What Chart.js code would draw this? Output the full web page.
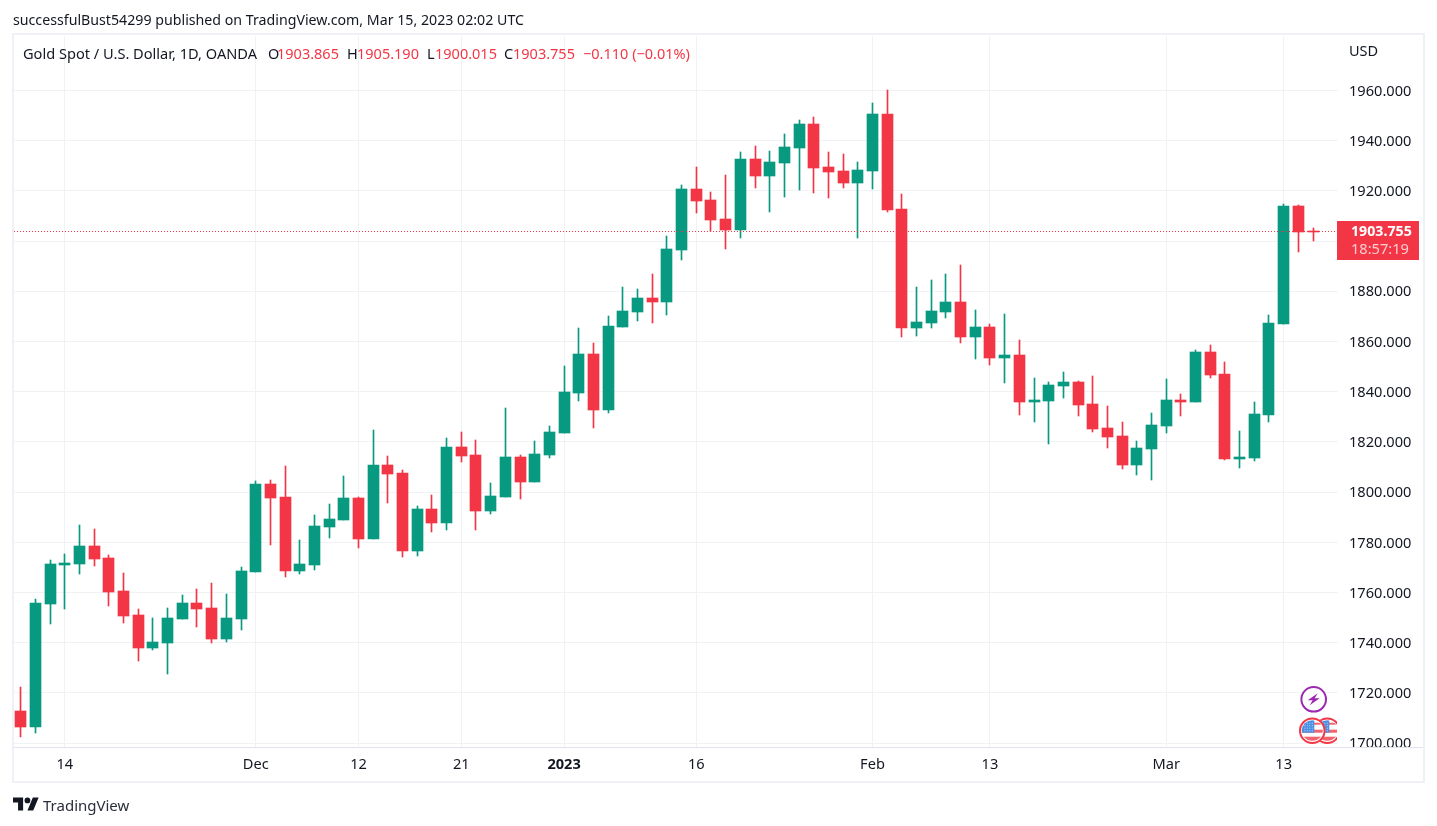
<!DOCTYPE html>
<html><head><meta charset="utf-8">
<style>
html,body{margin:0;padding:0;background:#fff;width:1437px;height:826px;overflow:hidden}
body{font-family:"Noto Sans",sans-serif;color:#131722}
#frame{position:absolute;left:12px;top:33px;width:1413px;height:750px;border:2px solid #F0F1F6;box-sizing:border-box}
canvas{position:absolute;left:0;top:0}
.t{position:absolute;white-space:nowrap;font-size:14.5px;line-height:18px}
.r{color:#F23645}
</style></head><body>
<div id="frame"></div>
<canvas id="c" width="1437" height="826"></canvas>
<div class="t" style="left:13px;top:11px;font-size:14.2px">successfulBust54299 published on TradingView.com, Mar 15, 2023 02:02 UTC</div>
<div class="t" style="left:23px;top:44px;font-size:14.6px">Gold Spot / U.S. Dollar, 1D, OANDA</div>
<div class="t" style="left:268px;top:44px">O</div><div class="t r" style="left:277px;top:44px">1903.865</div>
<div class="t" style="left:347px;top:44px">H</div><div class="t r" style="left:357px;top:44px">1905.190</div>
<div class="t" style="left:427px;top:44px">L</div><div class="t r" style="left:435px;top:44px">1900.015</div>
<div class="t" style="left:504px;top:44px">C</div><div class="t r" style="left:513px;top:44px">1903.755</div>
<div class="t r" style="left:583px;top:44px">−0.110 (−0.01%)</div>
<div class="t" style="left:1349px;top:41px">USD</div>
<svg style="position:absolute;left:13px;top:796px" width="26" height="16" viewBox="0 0 36 22"><path fill="#131722" d="M14 20H7V9H0V2h14v18zM28 20h-8l7.5-18h8L28 20z"/><circle fill="#131722" cx="20" cy="6" r="4"/></svg>
<div class="t" style="left:43px;top:796px;font-size:15px;color:#2A2E39">TradingView</div>
<script src="https://cdn.jsdelivr.net/npm/chart.js@4"></script>
<script>
const dates=["2022-11-09","2022-11-10","2022-11-11","2022-11-14","2022-11-15","2022-11-16","2022-11-17","2022-11-18","2022-11-21","2022-11-22","2022-11-23","2022-11-24","2022-11-25","2022-11-28","2022-11-29","2022-11-30","2022-12-01","2022-12-02","2022-12-05","2022-12-06","2022-12-07","2022-12-08","2022-12-09","2022-12-12","2022-12-13","2022-12-14","2022-12-15","2022-12-16","2022-12-19","2022-12-20","2022-12-21","2022-12-22","2022-12-23","2022-12-27","2022-12-28","2022-12-29","2022-12-30","2023-01-03","2023-01-04","2023-01-05","2023-01-06","2023-01-09","2023-01-10","2023-01-11","2023-01-12","2023-01-13","2023-01-16","2023-01-17","2023-01-18","2023-01-19","2023-01-20","2023-01-23","2023-01-24","2023-01-25","2023-01-26","2023-01-27","2023-01-30","2023-01-31","2023-02-01","2023-02-02","2023-02-03","2023-02-06","2023-02-07","2023-02-08","2023-02-09","2023-02-10","2023-02-13","2023-02-14","2023-02-15","2023-02-16","2023-02-17","2023-02-20","2023-02-21","2023-02-22","2023-02-23","2023-02-24","2023-02-27","2023-02-28","2023-03-01","2023-03-02","2023-03-03","2023-03-06","2023-03-07","2023-03-08","2023-03-09","2023-03-10","2023-03-13","2023-03-14","2023-03-15"];
const opens=[1712.9,1706.5,1755.5,1771.0,1771.4,1778.6,1773.8,1760.7,1751.1,1738.0,1740.0,1749.5,1755.9,1753.9,1741.6,1749.5,1768.3,1803.3,1798.1,1768.7,1771.0,1786.2,1789.0,1797.7,1781.4,1810.9,1807.7,1776.6,1793.4,1787.8,1818.1,1814.9,1792.6,1798.1,1814.1,1804.1,1814.9,1823.6,1839.6,1855.1,1832.8,1865.9,1871.8,1877.4,1875.8,1896.5,1920.8,1916.5,1908.9,1904.5,1932.8,1926.0,1931.2,1937.2,1946.7,1929.6,1928.0,1923.2,1928.0,1950.7,1912.9,1865.5,1867.5,1871.8,1875.8,1861.9,1865.9,1853.5,1854.7,1836.0,1836.4,1842.4,1844.0,1835.2,1825.6,1822.4,1810.9,1817.3,1826.4,1836.8,1836.0,1855.9,1847.1,1813.3,1813.7,1830.8,1867.1,1914.1,1903.865];
const highs=[1722.4,1757.5,1773.0,1775.4,1787.0,1785.4,1775.0,1767.9,1753.5,1749.9,1753.9,1759.1,1761.5,1763.9,1759.5,1770.3,1804.5,1804.9,1810.5,1781.0,1791.0,1795.4,1806.5,1797.9,1824.8,1814.5,1808.9,1794.6,1798.9,1821.6,1824.0,1820.8,1803.7,1833.6,1814.9,1820.4,1826.4,1850.3,1865.5,1859.5,1870.3,1881.8,1881.0,1887.0,1902.1,1922.4,1929.6,1919.7,1926.4,1935.6,1938.0,1936.0,1942.8,1948.3,1949.5,1935.6,1934.8,1931.6,1955.1,1960.3,1918.9,1881.8,1884.6,1887.0,1890.6,1872.6,1867.1,1871.0,1860.7,1845.5,1844.0,1847.9,1844.4,1846.3,1834.4,1828.0,1820.4,1831.6,1845.2,1839.2,1856.7,1858.7,1851.9,1824.4,1836.0,1870.6,1914.9,1914.5,1905.19];
const lows=[1702.5,1704.1,1747.5,1753.5,1767.5,1770.7,1754.7,1747.9,1732.8,1737.2,1727.6,1749.5,1746.3,1740.0,1740.4,1745.2,1768.3,1779.0,1766.3,1767.5,1769.0,1781.8,1789.0,1777.8,1781.4,1795.8,1774.2,1774.6,1784.2,1785.0,1812.1,1785.0,1791.4,1798.1,1797.3,1804.1,1813.7,1823.6,1836.4,1825.6,1831.6,1865.9,1868.3,1867.5,1870.6,1892.6,1911.3,1904.1,1896.9,1901.3,1921.2,1911.7,1917.7,1920.4,1919.3,1917.3,1921.2,1901.3,1920.8,1911.7,1861.9,1862.3,1865.5,1869.4,1859.5,1853.1,1850.7,1843.6,1830.8,1828.0,1819.3,1837.6,1830.4,1824.0,1817.7,1809.3,1806.9,1804.9,1823.6,1830.4,1836.0,1845.5,1812.9,1809.7,1812.5,1828.0,1867.1,1895.8,1900.015];
const closes=[1706.5,1755.9,1771.4,1771.8,1778.6,1773.4,1760.3,1750.7,1738.0,1740.4,1749.9,1755.9,1753.5,1741.6,1749.9,1768.7,1803.3,1797.7,1768.7,1771.4,1786.6,1789.4,1797.7,1781.4,1810.9,1807.3,1776.6,1793.4,1787.8,1818.1,1814.5,1792.6,1798.5,1814.1,1804.1,1815.3,1824.0,1840.0,1855.1,1832.8,1866.3,1872.2,1877.4,1875.8,1896.9,1920.8,1916.1,1908.5,1904.5,1932.8,1926.0,1931.6,1937.6,1946.7,1929.2,1927.6,1923.2,1928.4,1950.7,1912.5,1865.5,1867.9,1872.2,1875.8,1861.9,1865.9,1853.5,1854.7,1836.0,1836.8,1842.8,1844.0,1834.8,1825.2,1822.0,1810.9,1817.7,1826.8,1836.8,1836.0,1855.9,1846.7,1813.3,1814.1,1831.2,1867.5,1914.1,1903.7,1903.755];
const tickDates=["2022-11-14","2022-12-01","2022-12-12","2022-12-21","2023-01-03","2023-01-16","2023-02-01","2023-02-13","2023-03-01","2023-03-13"];
const tickTexts=["14","Dec","12","21","2023","16","Feb","13","Mar","13"];
const priceTicks=[1700,1720,1740,1760,1780,1800,1820,1840,1860,1880,1900,1920,1940,1960];
const lastPrice=1903.755, lastPriceText="1903.755", countdownText="18:57:19";
const UP="#089981", DOWN="#F23645", GRID="#F1F2F6", FONT='"Noto Sans",sans-serif';
const candleColor=ctx=>closes[ctx.dataIndex]>=opens[ctx.dataIndex]?UP:DOWN;
const tickIdx=tickDates.map(d=>dates.indexOf(d));
const xMin=-0.46,xMax=89.70;

const snap={id:'snap',afterDatasetsUpdate(ch){
  ch.data.datasets.forEach((ds,i)=>{
    const m=ch.getDatasetMeta(i);
    m.data.forEach(el=>{
      if(ds.type==='line'){el.y=Math.floor(el.y)+.5;return;}
      el.x=Math.floor(el.x)+.5;
      let a=Math.round(el.y),b=Math.round(el.base);
      if(a===b)b=a+1;
      el.y=a;el.base=b;
    });
  });
}};
const deco={id:'deco',afterDraw(ch){
  const c=ch.ctx,ya=ch.scales.y,a=ch.chartArea;
  c.save();
  c.fillStyle="#E0E3EB";c.fillRect(14,Math.round(a.bottom),1409,1);
  const py=Math.floor(ya.getPixelForValue(lastPrice));
  c.fillStyle=DOWN;c.fillRect(1337,py-10,82,39);
  c.textBaseline='middle';c.textAlign='left';
  c.font='bold 14.2px '+FONT;c.fillStyle="#fff";c.fillText(lastPriceText,1351,py+1);
  c.font='14.6px '+FONT;c.fillStyle="rgba(255,255,255,.75)";c.fillText(countdownText,1351,py+19);
  // event icons
  c.beginPath();c.rect(14,660,1323,87);c.clip();
  flag(c,1327.3,730.7);flag(c,1312.3,730.7);
  c.beginPath();c.arc(1313.7,699.3,12.3,0,7);c.fillStyle="#fff";c.fill();c.lineWidth=2;c.strokeStyle="#9C27B0";c.stroke();
  c.fillStyle="#9C27B0";c.beginPath();
  [[4,-6],[-6,1],[-1,1],[-4,6],[6,-1],[1,-1]].forEach((p,i)=>{const x=1313.7+p[0],y=699.3+p[1];i?c.lineTo(x,y):c.moveTo(x,y);});
  c.closePath();c.fill();
  c.restore();
}};
function flag(c,x,y){
  c.save();
  c.beginPath();c.arc(x,y,13,0,7);c.fillStyle="#fff";c.fill();
  c.beginPath();c.arc(x,y,10.5,0,7);c.clip();
  c.fillStyle="#fff";c.fillRect(x-11,y-11,22,22);
  c.fillStyle="#F2636E";
  c.fillRect(x-11,y-8,22,2);c.fillRect(x-11,y-1,22,3);c.fillRect(x-11,y+6,22,4);
  c.fillStyle="#4A90E2";c.fillRect(x-11,y-11,13,13);
  c.fillStyle="#BBD9FB";
  for(let i=0;i<4;i++)for(let j=0;j<4;j++)c.fillRect(x-8+i*2.5,y-8+j*2.5,1,1);
  c.restore();
  c.beginPath();c.arc(x,y,12.3,0,7);c.lineWidth=2;c.strokeStyle=DOWN;c.stroke();
}
new Chart(document.getElementById('c'),{
  type:'bar',
  data:{datasets:[
    {type:'line',order:0,data:[{x:xMin,y:lastPrice},{x:xMax,y:lastPrice}],borderColor:DOWN,borderWidth:1,borderDash:[1,2],pointRadius:0,fill:false},
    {order:1,label:'Body',data:dates.map((d,i)=>({x:i,y:[opens[i],closes[i]]})),backgroundColor:candleColor,barThickness:11,grouped:false},
    {order:2,label:'Wick',data:dates.map((d,i)=>({x:i,y:[lows[i],highs[i]]})),backgroundColor:candleColor,barThickness:1,grouped:false}
  ]},
  options:{
    responsive:false,animation:false,devicePixelRatio:1,
    layout:{padding:{left:14,top:36,right:13,bottom:44}},
    plugins:{legend:{display:false},tooltip:{enabled:false},title:{display:false}},
    scales:{
      x:{type:'linear',min:xMin,max:xMax,offset:false,
        afterBuildTicks(s){s.ticks=tickIdx.map(v=>({value:v}));},
        afterFit(s){s.height=35;},
        border:{display:false},
        grid:{color:GRID,drawTicks:false,offset:false},
        ticks:{autoSkip:false,maxRotation:0,padding:9,color:"#131722",
          callback:v=>tickTexts[tickIdx.indexOf(v)],
          font:ctx=>({family:FONT,size:14.6,weight:ctx.tick&&ctx.tick.label==="2023"?'bold':'normal'})}
      },
      y:{position:'right',min:1698.486,max:1981.71,
        afterBuildTicks(s){s.ticks=priceTicks.map(v=>({value:v}));},
        afterFit(s){s.width=86;},
        border:{display:false},
        grid:{color:GRID,drawTicks:false},
        ticks:{autoSkip:false,padding:11,labelOffset:1,align:'center',crossAlign:'near',color:"#131722",
          font:{family:FONT,size:14.6},callback:v=>v.toFixed(3)}
      }
    }
  },
  plugins:[snap,deco]
});
</script>
</body></html>
